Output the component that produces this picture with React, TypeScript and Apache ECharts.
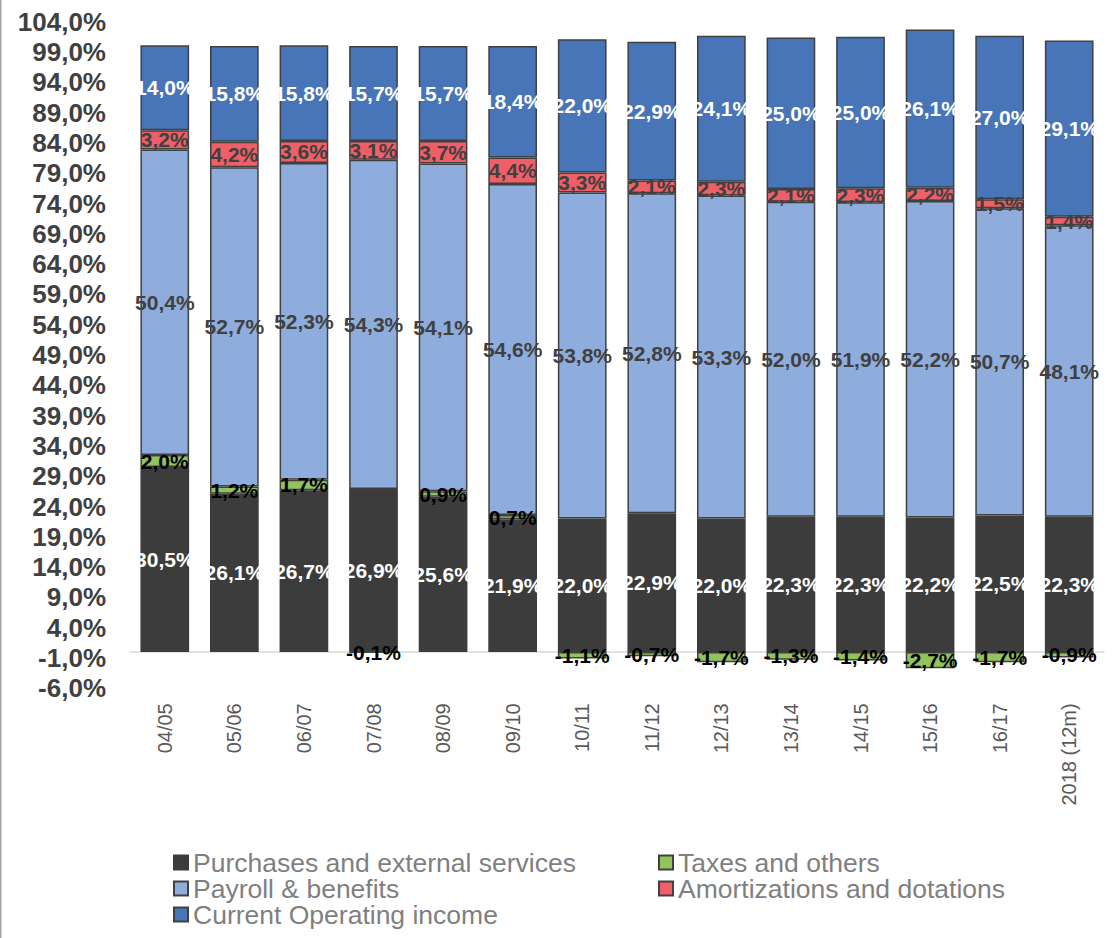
import React, { useEffect, useRef } from "react";
import * as echarts from "echarts";

const categories = ["04/05", "05/06", "06/07", "07/08", "08/09", "09/10", "10/11", "11/12", "12/13", "13/14", "14/15", "15/16", "16/17", "2018 (12m)"];
const purchases = [30.5, 26.1, 26.7, 26.9, 25.6, 21.9, 22.0, 22.9, 22.0, 22.3, 22.3, 22.2, 22.5, 22.3];
const taxes = [2.0, 1.2, 1.7, -0.1, 0.9, 0.7, -1.1, -0.7, -1.7, -1.3, -1.4, -2.7, -1.7, -0.9];
const payroll = [50.4, 52.7, 52.3, 54.3, 54.1, 54.6, 53.8, 52.8, 53.3, 52.0, 51.9, 52.2, 50.7, 48.1];
const amort = [3.2, 4.2, 3.6, 3.1, 3.7, 4.4, 3.3, 2.1, 2.3, 2.1, 2.3, 2.2, 1.5, 1.4];
const operating = [14.0, 15.8, 15.8, 15.7, 15.7, 18.4, 22.0, 22.9, 24.1, 25.0, 25.0, 26.1, 27.0, 29.1];

const FONT = "'Liberation Sans', Arial, sans-serif";
const pct = (v: number) => v.toFixed(1).replace(".", ",") + "%";

export default function App() {
  const ref = useRef<HTMLDivElement>(null);
  useEffect(() => {
    if (!ref.current) return;
    const chart = echarts.init(ref.current, null, { renderer: "svg" });
    const mkSeries = (name: string, data: number[], color: string, border: string, labelColor: string) => ({
      name,
      type: "bar",
      stack: "total",
      data,
      barCategoryGap: "30%",
      itemStyle: { color, borderColor: border, borderWidth: 1.5 },
      label: {
        show: true,
        position: "inside",
        formatter: (p: any) => pct(p.value),
        color: labelColor,
        fontWeight: "bold",
        fontSize: 21,
        fontFamily: FONT,
        textBorderWidth: 0,
      },
    });
    const legendBase = {
      orient: "vertical",
      top: 849,
      padding: 0,
      itemWidth: 14,
      itemHeight: 14,
      itemGap: -1,
      icon: "rect",
      textStyle: { color: "#7f7f7f", fontSize: 26.5, fontFamily: FONT, lineHeight: 25 },
    };
    chart.setOption({
      animation: false,
      grid: { left: 130, right: 10, top: 21.7, bottom: 249.7, outerBoundsMode: "none" },
      xAxis: {
        type: "category",
        data: categories,
        axisLine: { onZero: true, lineStyle: { color: "#d9d9d9", width: 1.5 } },
        axisTick: { show: false },
        axisLabel: { rotate: 90, margin: 15, color: "#595959", fontSize: 20, fontFamily: FONT, interval: 0 },
      },
      yAxis: {
        type: "value",
        min: -6,
        max: 104,
        interval: 5,
        axisLine: { show: false },
        axisTick: { show: false },
        splitLine: { show: false },
        axisLabel: { formatter: (v: number) => pct(v), color: "#404040", fontSize: 26, fontWeight: "bold", fontFamily: FONT, margin: 24 },
      },
      legend: [
        { ...legendBase, left: 173, data: ["Purchases and external services", "Payroll & benefits", "Current Operating income"] },
        { ...legendBase, left: 658, data: ["Taxes and others", "Amortizations and dotations"] },
      ],
      graphic: [
        { type: "line", shape: { x1: 0.75, y1: 0, x2: 0.75, y2: 938 }, style: { stroke: "#a6a6a6", lineWidth: 1.5 } },
      ],
      series: [
        mkSeries("Purchases and external services", purchases, "#3c3c3c", "#3c3c3c", "#ffffff"),
        mkSeries("Taxes and others", taxes, "#92c45c", "#404040", "#000000"),
        mkSeries("Payroll & benefits", payroll, "#8eaddc", "#404040", "#404040"),
        mkSeries("Amortizations and dotations", amort, "#ef5f67", "#404040", "#404040"),
        mkSeries("Current Operating income", operating, "#4874b8", "#404040", "#ffffff"),
      ],
    });
    return () => chart.dispose();
  }, []);
  return <div ref={ref} style={{ position: "fixed", left: 0, top: 0, width: 1114, height: 938, background: "#fff" }} />;
}
